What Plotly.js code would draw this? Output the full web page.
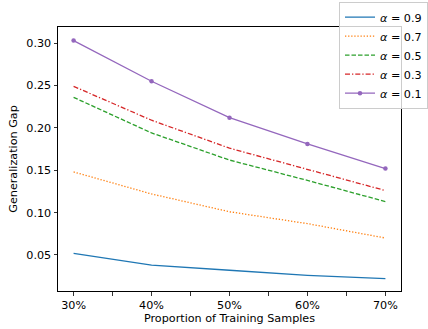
<!DOCTYPE html>
<html>
<head>
<meta charset="utf-8">
<script src="https://cdn.plot.ly/plotly-3.0.1.min.js"></script>
<style>html,body{margin:0;padding:0;background:#fff;}#chart{width:428px;height:329px;}</style>
</head>
<body>
<div id="chart"></div>
<script>
var proportions = [30, 40, 50, 60, 70];
var tickValues = [30, 35, 40, 45, 50, 55, 60, 65, 70];
var tickLabels = ['30%', '', '40%', '', '50%', '', '60%', '', '70%'];
var seriesNames = ['<i>α</i> = 0.9', '<i>α</i> = 0.7', '<i>α</i> = 0.5', '<i>α</i> = 0.3', '<i>α</i> = 0.1'];
var alpha09 = [0.052, 0.038, 0.032, 0.026, 0.022];
var alpha07 = [0.148, 0.122, 0.101, 0.087, 0.070];
var alpha05 = [0.236, 0.194, 0.162, 0.138, 0.113];
var alpha03 = [0.249, 0.209, 0.176, 0.151, 0.126];
var alpha01 = [0.303, 0.255, 0.212, 0.181, 0.152];

var seriesValues = [alpha09, alpha07, alpha05, alpha03, alpha01];
var colors = ['#1f77b4', '#ff7f0e', '#2ca02c', '#d62728', '#9467bd'];
var dashes = ['solid', '1.3px,1.8px', '4.5px,2px', '5px,2px,1.3px,2px', 'solid'];

var traces = seriesValues.map(function(v, i) {
  var t = {
    x: proportions, y: v, name: seriesNames[i], type: 'scatter',
    mode: i === 4 ? 'lines+markers' : 'lines',
    line: {color: colors[i], width: 1.3, dash: dashes[i]}
  };
  if (i === 4) t.marker = {size: 4.5, color: colors[i]};
  return t;
});

var fs = 11.2;
var font = {family: 'DejaVu Sans', size: fs, color: '#000'};
var layout = {
  width: 428, height: 329,
  margin: {l: 58, r: 27, t: 27, b: 38, autoexpand: false},
  paper_bgcolor: '#fff', plot_bgcolor: '#fff',
  font: font,
  showlegend: true,
  legend: {
    x: 1.0, xref: 'container', xanchor: 'right', y: 0.995, yref: 'container', yanchor: 'top',
    bordercolor: '#cccccc', borderwidth: 1, bgcolor: 'rgba(255,255,255,0.8)',
    font: font,
    tracegroupgap: 0, itemwidth: 30
  },
  xaxis: {
    range: [28, 72], tickmode: 'array', tickvals: tickValues, ticktext: tickLabels,
    ticks: 'outside', ticklen: 3.5, tickwidth: 0.8, tickcolor: '#000',
    showline: true, linecolor: '#000', linewidth: 1, mirror: true,
    showgrid: false, zeroline: false,
    tickfont: font,
    title: {text: 'Proportion of Training Samples', font: font, standoff: 3}
  },
  yaxis: {
    range: [0.0075, 0.319], tickmode: 'array',
    tickvals: [0.05, 0.10, 0.15, 0.20, 0.25, 0.30],
    ticktext: ['0.05', '0.10', '0.15', '0.20', '0.25', '0.30'],
    ticks: 'outside', ticklen: 3.5, tickwidth: 0.8, tickcolor: '#000',
    showline: true, linecolor: '#000', linewidth: 1, mirror: true,
    showgrid: false, zeroline: false,
    tickfont: font,
    title: {text: 'Generalization Gap', font: font, standoff: 6}
  }
};
Plotly.newPlot('chart', traces, layout, {displayModeBar: false, staticPlot: true});
</script>
</body>
</html>
